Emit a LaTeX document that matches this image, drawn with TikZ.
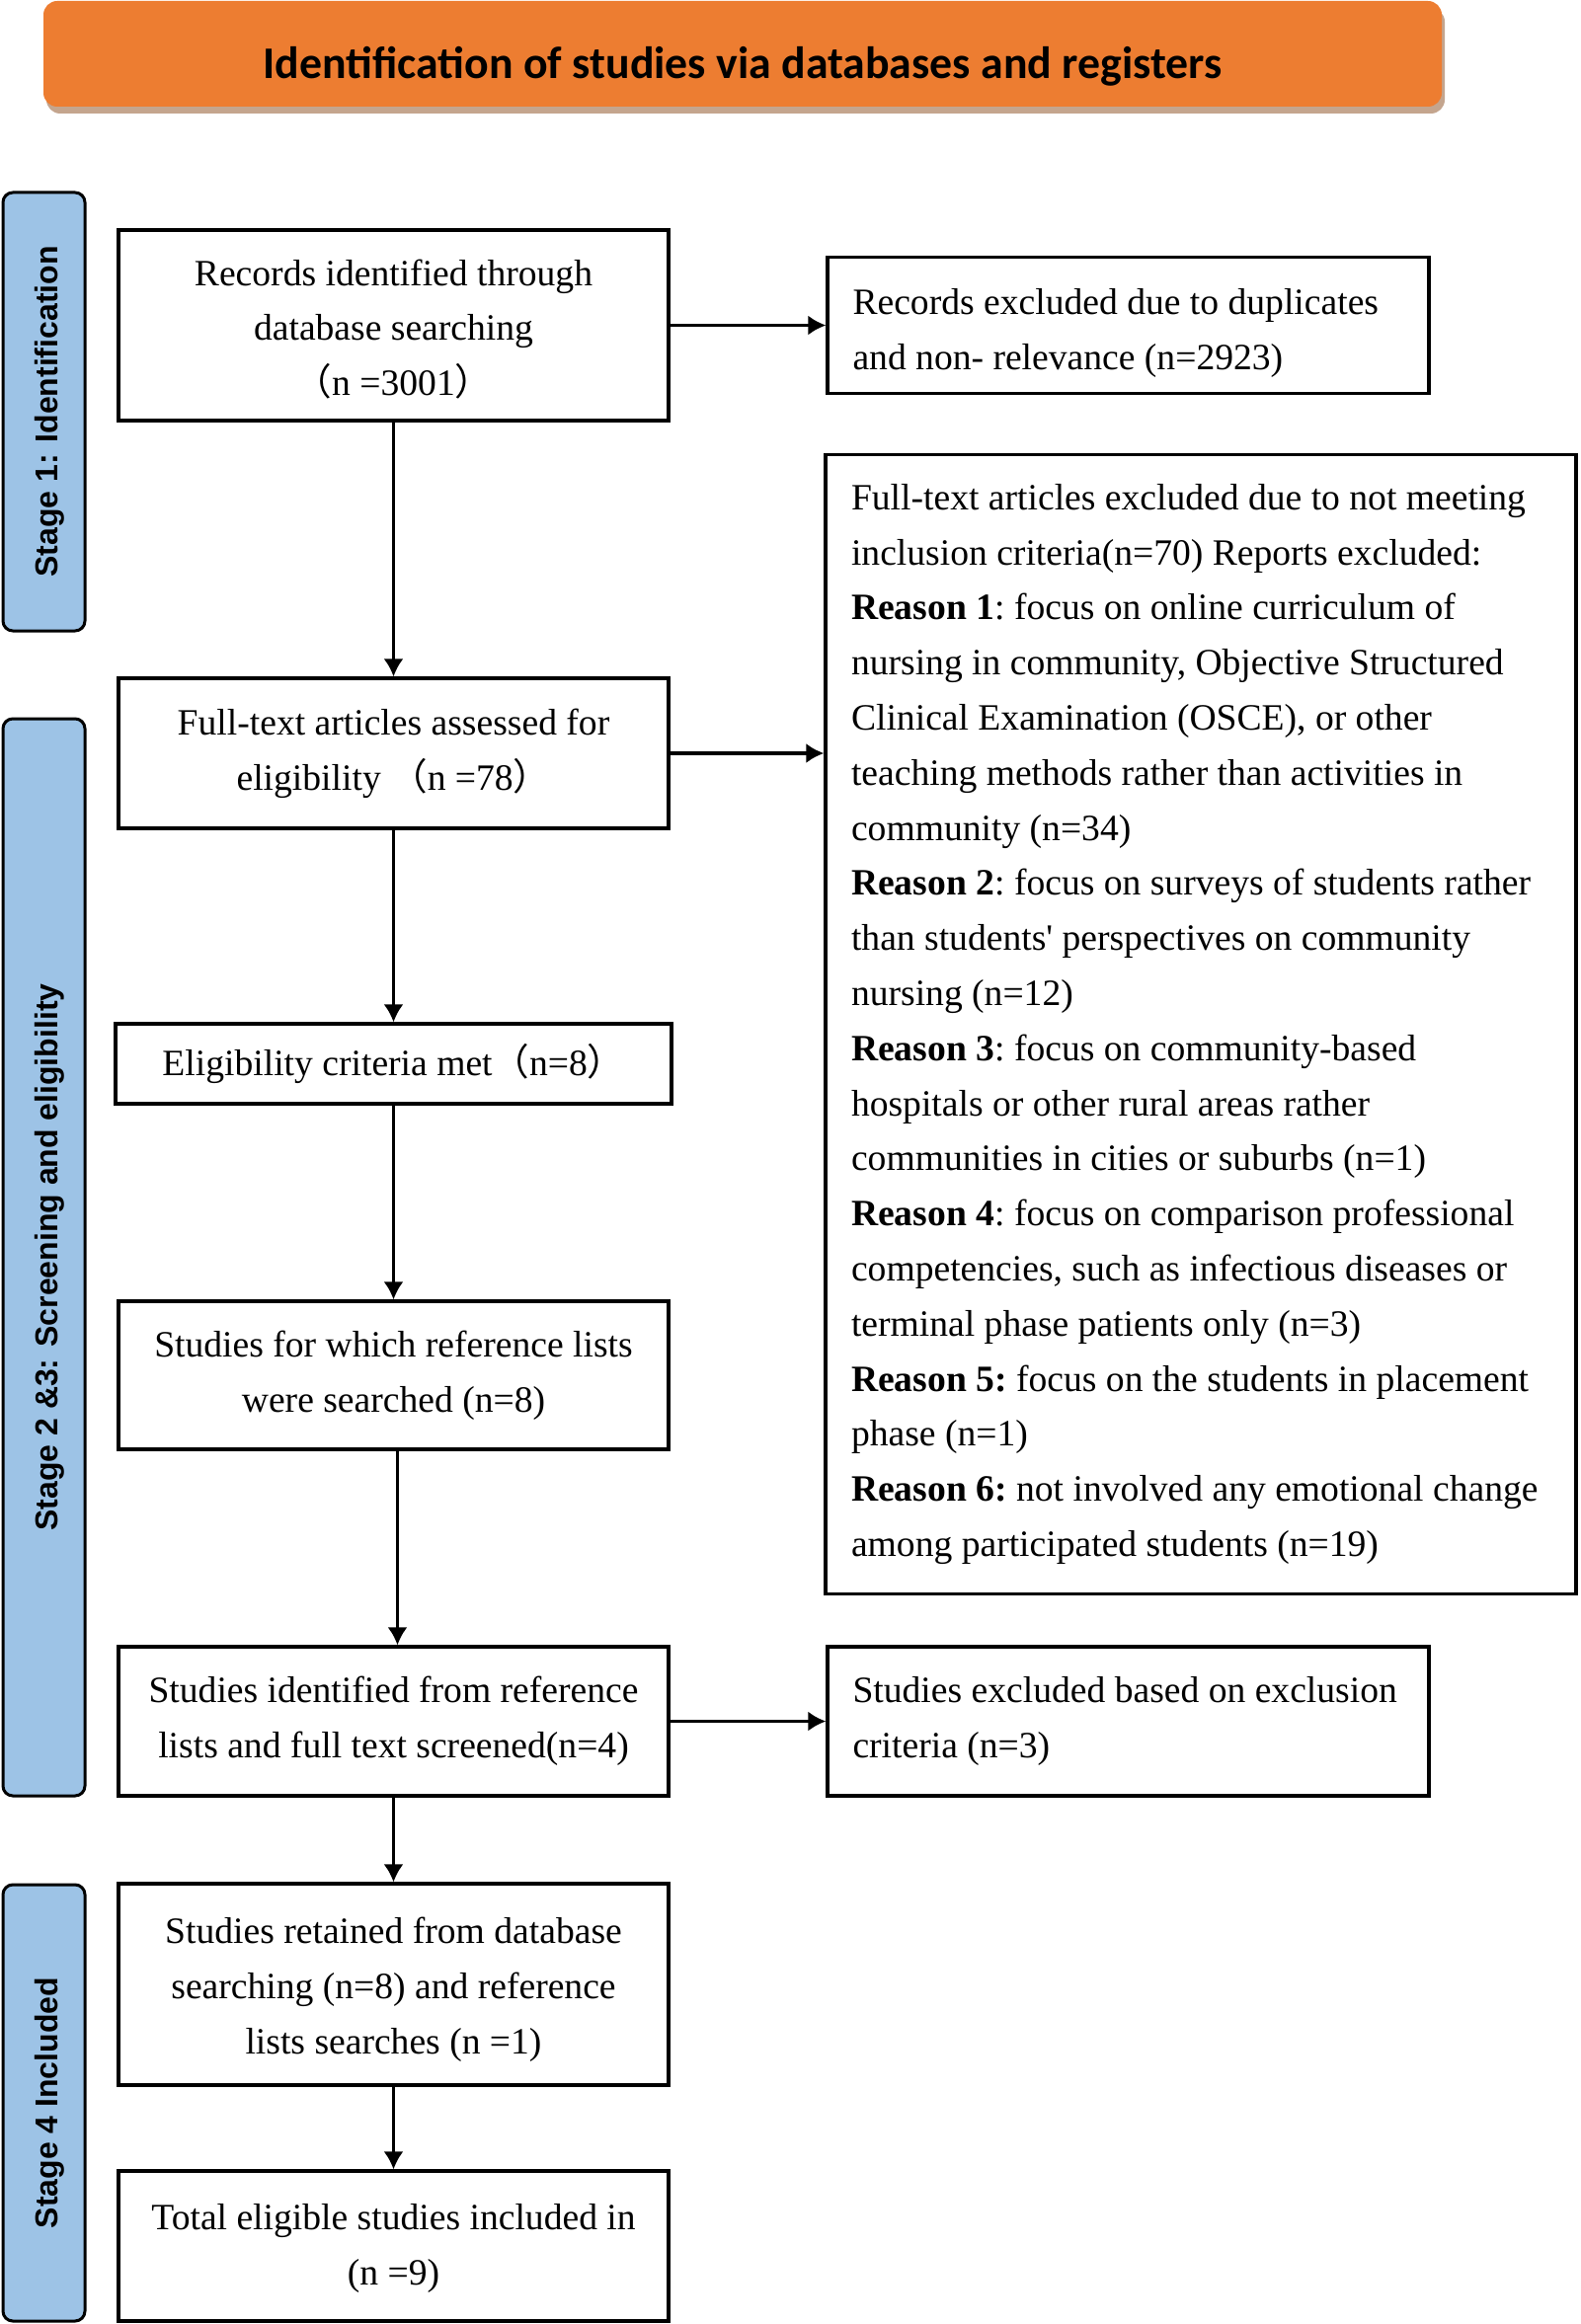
\documentclass[tikz,border=0pt]{standalone}
\usepackage{fontspec}
\setmainfont{Liberation Serif}
\setsansfont{Liberation Sans}
\newfontfamily\bannerfont{Carlito}
\newfontfamily\cjkfont{Noto Sans CJK SC}
\usetikzlibrary{arrows.meta, positioning, shadows}

\definecolor{bannerorange}{HTML}{ED7D31}
\definecolor{bannershadow}{HTML}{C4A58E}
\definecolor{stageblue}{HTML}{9DC3E6}

\newcommand{\fwlp}{{\cjkfont （}}
\newcommand{\fwrp}{{\cjkfont ）}}
\newcommand{\boxfont}{\fontsize{18.8}{27.9}\selectfont}

\tikzset{
  banner/.style={fill=bannerorange, rounded corners=7pt, minimum width=708pt,
    minimum height=53.5pt, text height=26pt, text depth=1pt,
    drop shadow={shadow xshift=1.5pt, shadow yshift=-3.5pt, fill=bannershadow, opacity=1},
    font=\bannerfont\bfseries\fontsize{22.9}{27}\selectfont},
  stagebox/.style={draw, line width=1.5pt, rounded corners=5pt, fill=stageblue,
    rotate=90, minimum height=41.5pt, inner sep=0pt, text height=15pt, text depth=0.7pt,
    font=\sffamily\bfseries\fontsize{16}{19}\selectfont},
  plainspace/.style={execute at begin node={\spaceskip=0pt\xspaceskip=0pt\frenchspacing}},
  flowbox/.style={draw, align=center, font=\boxfont, plainspace, minimum width=278.5pt, inner sep=0pt},
  sidebox/.style={draw, align=left, font=\boxfont, plainspace, text width=279pt,
    inner xsep=12.75pt, inner ysep=0pt},
}

\begin{document}
\begin{tikzpicture}[x=0.5pt, y=-0.5pt, line width=1.6pt, >={Latex[length=9pt, width=10pt]}]
  \useasboundingbox (0,0) rectangle (1600,2354);

  \node[banner] (title) at (752,54.5) {Identification of studies via databases and registers};

  % stages on the left
  \node[stagebox, minimum width=222pt] (st1) at (44.5,417) {Stage 1: Identification};
  \node[stagebox, minimum width=545.5pt] (st23) at (44.5,1273.5) {Stage 2 \&3: Screening and eligibility};
  \node[stagebox, minimum width=221pt] (st4) at (44.5,2130) {Stage 4 Included};

  % main column
  \node[flowbox, minimum height=96.5pt, text height=71.3pt, text depth=0pt] (rec) at (398.5,329.5) {Records identified through\\database searching\\\fwlp n =3001\fwrp};
  \node[flowbox, minimum height=76pt, below=128.9pt of rec] (assess) {Full-text articles assessed for\\eligibility \fwlp n =78\fwrp};
  \node[flowbox, minimum height=40.5pt, minimum width=281.5pt, below=97.4pt of assess] (elig) {Eligibility criteria met\fwlp n=8\fwrp};
  \node[flowbox, minimum height=75pt, below=98.4pt of elig] (search) {Studies for which reference lists\\were searched (n=8)};
  \node[flowbox, minimum height=75.5pt, below=98.4pt of search] (ident) {Studies identified from reference\\lists and full text screened(n=4)};
  \node[flowbox, minimum height=102pt, text height=70.5pt, text depth=0pt, below=42.9pt of ident] (retain) {Studies retained from database\\searching (n=8) and reference\\lists searches (n =1)};
  \node[flowbox, minimum height=76pt, text height=39.6pt, text depth=0pt, below=41.9pt of retain] (total) {Total eligible studies included in\\(n =9)};

  % excluded on the right
  \node[sidebox, minimum height=69pt, text height=12.8pt, text depth=24pt, right=78.9pt of rec] (dup) {Records excluded due to duplicates\\and non- relevance (n=2923)};
  \node[sidebox, text width=354pt, inner xsep=13pt, minimum height=577pt, anchor=north west] (excl)
    at ([xshift=-1pt, yshift=-29.4pt]dup.south west) {Full-text articles excluded due to not meeting\\
    inclusion criteria(n=70) Reports excluded:\\
    \textbf{Reason 1}: focus on online curriculum of\\
    nursing in community, Objective Structured\\
    Clinical Examination (OSCE), or other\\
    teaching methods rather than activities in\\
    community (n=34)\\
    \textbf{Reason 2}: focus on surveys of students rather\\
    than students\textquotesingle{} perspectives on community\\
    nursing (n=12)\\
    \textbf{Reason 3}: focus on community-based\\
    hospitals or other rural areas rather\\
    communities in cities or suburbs (n=1)\\
    \textbf{Reason 4}: focus on comparison professional\\
    competencies, such as infectious diseases or\\
    terminal phase patients only (n=3)\\
    \textbf{Reason 5:} focus on the students in placement\\
    phase (n=1)\\
    \textbf{Reason 6:} not involved any emotional change\\
    among participated students (n=19)};
  \node[sidebox, minimum height=75.5pt, right=78.9pt of ident] (exc) {Studies excluded based on exclusion\\criteria (n=3)};

  \draw[->] (rec) -- (assess);
  \draw[->] (assess) -- (elig);
  \draw[->] (elig) -- (search);
  \draw[->] ([xshift=2pt]search.south) -- ([xshift=2pt]ident.north);
  \draw[->] (ident) -- (retain);
  \draw[->] (retain) -- (total);
  \draw[->] (rec) -- (dup);
  \draw[->] (assess.east) -- (assess.east -| excl.west);
  \draw[->] (ident) -- (exc);
\end{tikzpicture}
\end{document}
